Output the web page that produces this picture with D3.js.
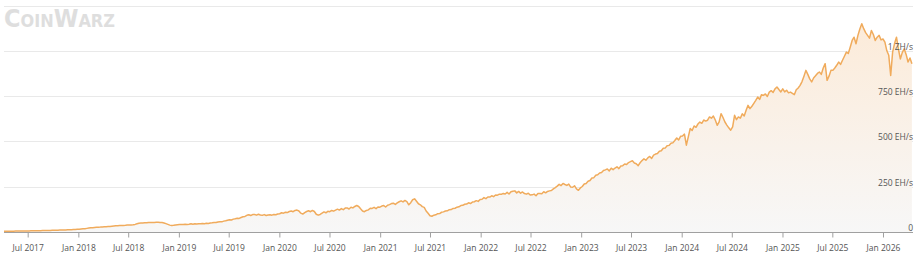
<!DOCTYPE html>
<html>
<head>
<meta charset="utf-8">
<script src="https://cdn.jsdelivr.net/npm/d3@7"></script>
<style>
  html, body { margin: 0; padding: 0; background: #ffffff; }
  svg { display: block; }
</style>
</head>
<body>
<svg id="chart" width="920" height="257"></svg>
<script>
// ---- Data: weekly network hashrate (EH/s), first week starting 2017-04-06 ----
const seriesStart = "2017-04-06";
const seriesEnd = "2026-04-20";
const hash2017 = [3.8,4.0,4.1,4.3, 4.5,4.7,4.9,5.2, 5.4,5.6,5.8,6.0,6.1, 6.2,6.3,6.5,6.7, 6.9,7.1,7.3,7.6,7.9, 8.2,8.5,8.8,9.0, 9.3,9.6,10.0,10.4, 10.8,11.2,11.6,12.0,12.5, 13.0,13.6,14.2,14.8];
const hash2018 = [15.5,16.5,17.5,18.5, 20,21.5,23,24, 25,26,26.5,27,28, 28.5,29,30,31, 32,33,34,35,35.5, 36,36.5,37,38, 38.5,39,40,42, 45,48,49,50,51, 51,52,53,53, 53,54,54,53, 52,50,46,42,38, 36,37,39,40];
const hash2019 = [41,42,41,43,42, 43,45,43,45, 44,46,45,47, 46,48,47,50, 51,53,52,55,57, 56,60,62,65, 68,66,71,73, 76,75,80,84,86, 92,95,91,96, 97,93,98,94,92, 96,91,94,95, 93,97,95,99];
const hash2020 = [101,106,104,109,107, 113,116,112,119, 121,116,104,99, 107,113,117,112,119, 113,98,93,97, 104,111,106,114, 112,119,115,121,126, 121,129,123,132, 133,127,137,133, 141,146,141,128,116, 112,119,122,131, 130,136,129,138,137];
const hash2021 = [143,146,138,148, 151,157,159,152, 161,167,172,166, 174,168,150,162,178, 183,170,156,150, 140,136,116,103, 90,87,93,95,101, 102,109,111,116, 117,123,124,130,131, 137,139,146,147, 153,154,161,157, 165,167,173,169,179];
const hash2022 = [181,190,184,193, 193,200,195,204, 203,209,208,213,210, 219,210,222,225, 227,216,224,214, 221,212,209,214,204, 205,209,200,212, 213,211,222,216, 224,227,229,238,245, 253,263,256,268, 262,257,264,248, 247,255,238,230,243];
const hash2023 = [251,265,268,280, 284,298,300,313, 316,326,328,339,343, 348,337,352,344, 353,360,350,364, 366,375,372,383,388, 393,381,377,366, 382,394,404,396,409, 417,406,424,430, 433,446,448,462, 463,476,478,490,492, 505,519,508,528];
const hash2024 = [530,540,479,525, 571,560,585,578,596, 607,600,618,612, 617,635,628,640, 618,589,608,653,632, 607,590,575,562, 580,644,620,635, 628,652,640,672,699, 681,694,710,726, 745,732,758,754,762, 748,772,780,770, 790,800,786,773];
const hash2025 = [790,773,782,768,772, 765,758,785,795, 809,830,860,892, 870,845,828,850, 862,875,883,870,905, 929,837,860,892, 892,905,920,938,925, 948,970,993,985, 1020,1057,1075,1039, 1085,1120,1149,1122,1100, 1085,1070,1112,1090, 1057,1075,1085,1060];
const hash2026 = [1065,1048,1000,975,864, 993,1040,1075,1010, 955,990,1011,980, 938,960,929];

const xTickLabels = ["Jul 2017","Jan 2018","Jul 2018","Jan 2019","Jul 2019","Jan 2020","Jul 2020","Jan 2021","Jul 2021","Jan 2022","Jul 2022","Jan 2023","Jul 2023","Jan 2024","Jul 2024","Jan 2025","Jul 2025","Jan 2026"];
const yTickValues = [0, 250, 500, 750, 1000, 1250];
const yTickLabels = ["0", "250 EH/s", "500 EH/s", "750 EH/s", "1 ZH/s", ""];
const logoText = "CoinWarz";

// ---- Build table ----
const parseDay = d3.timeParse("%Y-%m-%d");
const parseMonth = d3.timeParse("%b %Y");
const start = parseDay(seriesStart);
const values = [].concat(hash2017, hash2018, hash2019, hash2020, hash2021, hash2022, hash2023, hash2024, hash2025, hash2026);
const data = values.map((v, i) => ({ date: d3.timeDay.offset(start, i * 7), value: v }));

// ---- Layout ----
const plotLeft = 4, plotRight = 913, plotTop = 5.5, plotBottom = 232;

const svg = d3.select("#chart");

const x = d3.scaleTime()
  .domain([start, parseDay(seriesEnd)])
  .range([plotLeft, plotRight]);
const y = d3.scaleLinear()
  .domain([0, 1250])
  .range([plotBottom, plotTop]);

// gradient
const defs = svg.append("defs");
const grad = defs.append("linearGradient")
  .attr("id", "areaGrad")
  .attr("gradientUnits", "userSpaceOnUse")
  .attr("x1", 0).attr("x2", 0)
  .attr("y1", y(1150)).attr("y2", y(0));
grad.append("stop").attr("offset", "0%").attr("stop-color", "#fcebd9");
grad.append("stop").attr("offset", "100%").attr("stop-color", "#f7f7f7");

// logo watermark (single text, small caps)
svg.append("text")
  .attr("x", 4).attr("y", 26.5)
  .attr("font-family", "DejaVu Sans, sans-serif")
  .attr("font-weight", "bold")
  .attr("font-size", 25)
  .style("font-variant", "small-caps")
  .attr("fill", "#dedede")
  .attr("textLength", 111)
  .attr("lengthAdjust", "spacingAndGlyphs")
  .text(logoText);

// gridlines
svg.append("g")
  .selectAll("line")
  .data(yTickValues.filter(v => v > 0))
  .join("line")
  .attr("x1", plotLeft).attr("x2", plotRight)
  .attr("y1", d => Math.round(y(d)) + 0.5)
  .attr("y2", d => Math.round(y(d)) + 0.5)
  .attr("stroke", "#e9e9e9")
  .attr("stroke-width", 1);

// area + line
const area = d3.area()
  .x(d => x(d.date))
  .y0(y(0))
  .y1(d => y(d.value));
const line = d3.line()
  .x(d => x(d.date))
  .y(d => y(d.value));

svg.append("path")
  .datum(data)
  .attr("d", area)
  .attr("fill", "url(#areaGrad)");

svg.append("path")
  .datum(data)
  .attr("d", line)
  .attr("fill", "none")
  .attr("stroke", "#f0ab5c")
  .attr("stroke-width", 1.5)
  .attr("stroke-linejoin", "round");

// x axis
const xAxis = d3.axisBottom(x)
  .tickValues(xTickLabels.map(parseMonth))
  .tickFormat((d, i) => xTickLabels[i])
  .tickSizeInner(5)
  .tickSizeOuter(0)
  .tickPadding(7.5);

const gx = svg.append("g")
  .attr("transform", `translate(0,${plotBottom + 0.5})`)
  .call(xAxis);
gx.select(".domain").attr("stroke", "#a0a0a0").attr("d", `M${plotLeft},0H${plotRight}`);
gx.selectAll(".tick line").attr("stroke", "#a0a0a0");
gx.selectAll(".tick text")
  .attr("fill", "#555")
  .attr("font-family", "Open Sans, sans-serif")
  .attr("font-size", 8.5);

// y axis labels (inside, right aligned)
svg.append("g")
  .selectAll("text")
  .data(yTickValues)
  .join("text")
  .attr("x", plotRight)
  .attr("y", d => y(d) - 1)
  .attr("text-anchor", "end")
  .attr("fill", "#555")
  .attr("font-family", "Open Sans, sans-serif")
  .attr("font-size", 8.5)
  .text((d, i) => yTickLabels[i]);
</script>
</body>
</html>
